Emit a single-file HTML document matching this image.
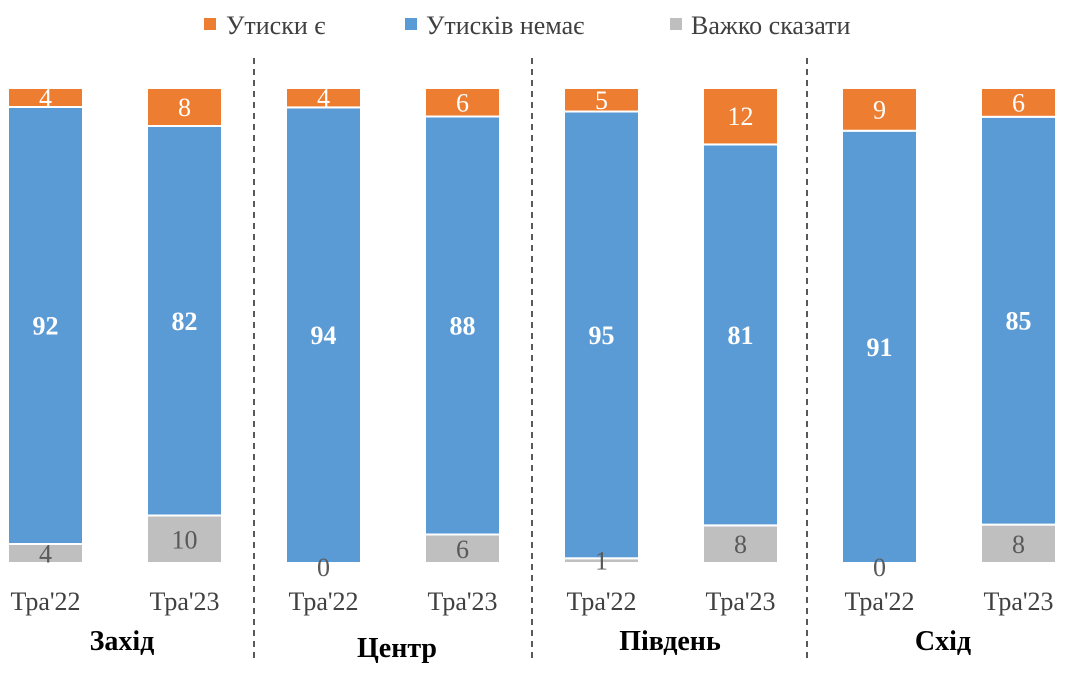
<!DOCTYPE html>
<html><head><meta charset="utf-8"><style>
body{margin:0;background:#fff;}
svg text{font-family:"Liberation Serif","DejaVu Serif",serif;}
</style></head><body>
<svg id="c" width="1068" height="682" xmlns="http://www.w3.org/2000/svg">
<g id="legend">
 <g><rect x="204" y="18" width="12" height="12" fill="#ED7D31"/><text x="226" y="34" font-size="26" fill="#404040">Утиски є</text></g>
 <g><rect x="405" y="18" width="12" height="12" fill="#5B9BD5"/><text x="426" y="34" font-size="26" fill="#404040">Утисків немає</text></g>
 <g><rect x="670" y="18" width="12" height="12" fill="#BFBFBF"/><text x="691" y="34" font-size="26" fill="#404040">Важко сказати</text></g>
</g>
</svg>
<script>
const regions=["Захід","Центр","Південь","Схід"];
const periods=["Тра'22","Тра'23"];
const yes=[4,8,4,6,5,12,9,6];
const no=[92,82,94,88,95,81,91,85];
const hard=[4,10,0,6,1,8,0,8];
const svg=document.getElementById('c');
const NS='http://www.w3.org/2000/svg';
const top0=88,bot=563,bw=75;
function bx(i){return 8+Math.floor(i/2)*278+(i%2)*139;}
function mk(t,a){const e=document.createElementNS(NS,t);for(const k in a)e.setAttribute(k,a[k]);svg.appendChild(e);return e;}
const labels=[];
for(let i=0;i<yes.length;i++){
 const tot=yes[i]+no[i]+hard[i];const s=(bot-top0)/tot;
 const x=bx(i);let y=bot;
 const segs=[[hard[i],'#BFBFBF','#595959','normal','hard'],[no[i],'#5B9BD5','#fff','bold','no'],[yes[i],'#ED7D31','#fff','normal','yes']];
 for(const [v,col,tc,fw,nm] of segs){
  const h=v*s;
  if(h>0){const r=mk('rect',{x:x,y:y-h,width:bw,height:h,fill:col,stroke:'#fff','stroke-width':2});
   
   }
  labels.push([v,x+bw/2,(h>0?y-h/2:y+4)+9,(v===0||h<10)?'#595959':tc,fw,nm,i]);
  y-=h;
 }
 const pl=mk('text',{x:x+bw/2,y:610,'font-size':26,'text-anchor':'middle',fill:'#404040'});
 pl.textContent=periods[i%2];
 
 
}
for(const [v,cx,cy,c,fw,nm,i] of labels){
 const t=mk('text',{x:cx,y:cy,'font-size':26,'text-anchor':'middle',fill:c,'font-weight':fw});
 t.textContent=v;
 
 
}
const rx=[122,397,670,943],ry=[650,657,650,650];
regions.forEach((r,j)=>{
 const t=mk('text',{x:rx[j],y:ry[j],'font-size':28,'font-weight':'bold','text-anchor':'middle',fill:'#000'});
 t.textContent=r;
 
 
});
[254,532,807].forEach(x=>{
 const l=mk('line',{x1:x,x2:x,y1:58,y2:662,stroke:'#595959','stroke-width':2,'stroke-dasharray':'6,5'});
 
 
});
</script>
</body></html>
